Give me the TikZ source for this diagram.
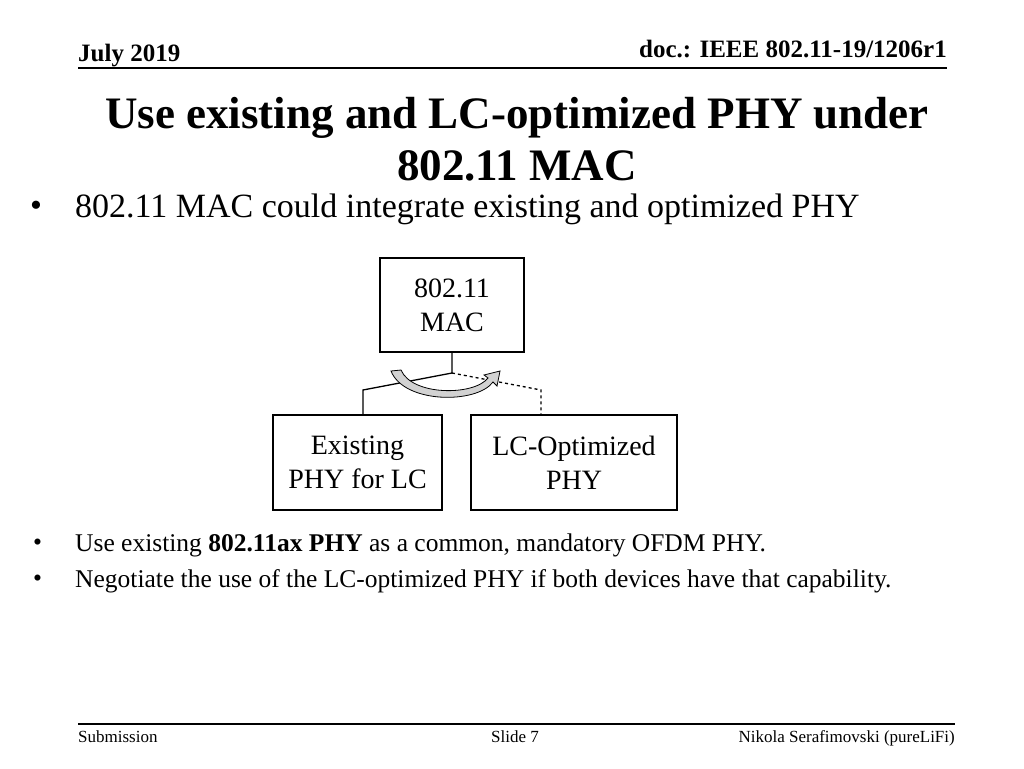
\documentclass[tikz,border=0pt]{standalone}
\usepackage{fontspec}
\setmainfont{Liberation Serif}
\usetikzlibrary{arrows.meta,positioning,calc}

\begin{document}
\begin{tikzpicture}[
  x=1pt, y=-1pt,
  box/.style={draw, line width=1.3pt, align=center, font=\fontsize{28}{34}\selectfont},
  link/.style={line width=1.3pt},
  small/.style={anchor=west, font=\fontsize{25.5}{30}\selectfont},
  foot/.style={inner sep=0pt, font=\fontsize{17}{20}\selectfont},
]
\useasboundingbox (0,0) rectangle (1024,768);

% --- header and footer ---
\node[anchor=base west, inner sep=0pt, font=\fontsize{25}{28}\selectfont\bfseries] (date) at (78,62) {July 2019};
\node[anchor=base east, inner sep=0pt, font=\fontsize{25}{28}\selectfont\bfseries] (doc) at (947,57) {doc.: IEEE 802.11-19/1206r1};
\draw[line width=1.3pt] (78,68) -- (947,68);
\node[align=center, font=\fontsize{45}{52}\selectfont\bfseries] (title) at (517,139) {Use existing and LC-optimized PHY under\\802.11 MAC};
\node[anchor=west, inner sep=0pt, font=\fontsize{34}{40}\selectfont] (b1dot) at (30,209) {\textbullet};
\node[anchor=west, inner sep=0pt, font=\fontsize{34}{40}\selectfont] (b1) at (75,209) {802.11 MAC could integrate existing and optimized PHY};

% --- diagram ---
\node[box, minimum width=144pt, minimum height=94pt] (mac) at (452,305) {802.11\\MAC};
\node[box, minimum width=169pt, minimum height=95pt] (exist) at (357.5,462.5) {Existing\\PHY for LC};
\node[box, minimum width=206pt, minimum height=95pt] (lcphy) at (574,462.5) {LC-Optimized\\PHY};

\coordinate (hub) at (452,373);
\draw[link] (mac.south) -- (hub) -- (363,390) -- (363,415);
\draw[link, dashed] (hub) -- (541,390) -- (541,415);

% switch arrow
\draw[line width=0.8pt, fill=gray!35] (391,371) -- (401,370)
  .. controls (412,396) and (474,396) .. (488,378)
  -- (484,375) -- (500,371) -- (497,386) -- (493,382)
  .. controls (477,404) and (404,404) .. (391,371) -- cycle;

% --- bullets ---
\node[small, inner sep=0pt] (b2dot) at (33,545) {\textbullet};
\node[small, inner sep=0pt] (b2) at (75,545) {Use existing \textbf{802.11ax PHY} as a common, mandatory OFDM PHY.};
\node[small, inner sep=0pt] (b3dot) at (33,581) {\textbullet};
\node[small, inner sep=0pt] (b3) at (75,581) {Negotiate the use of the LC-optimized PHY if both devices have that capability.};

\draw[line width=1.3pt] (78,724) -- (955,724);
\node[foot, anchor=base west] (sub) at (78,742) {Submission};
\node[foot, anchor=base] (slide) at (515,742) {Slide 7};
\node[foot, anchor=base east] (auth) at (955,742) {Nikola Serafimovski (pureLiFi)};
\end{tikzpicture}
\end{document}
